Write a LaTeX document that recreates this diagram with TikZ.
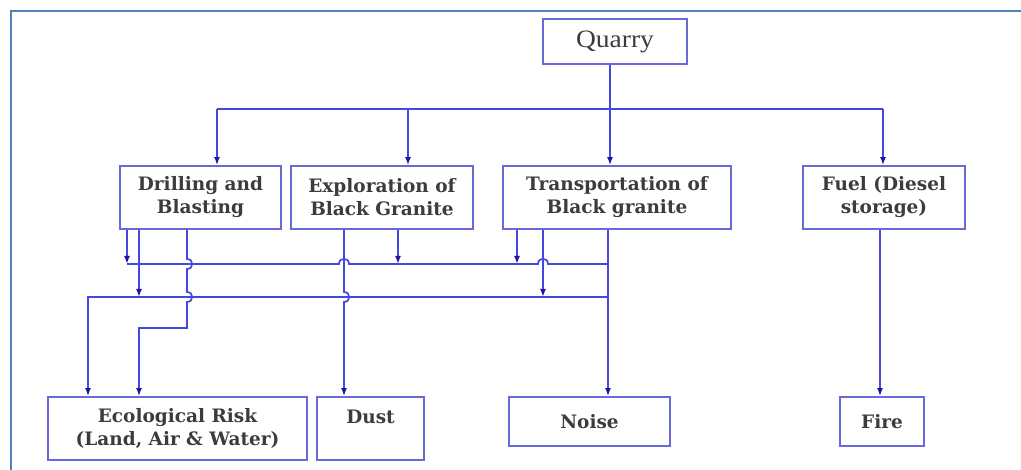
\documentclass[tikz,border=0pt]{standalone}
\usepackage{fontspec}
\setmainfont{DejaVu Serif}
\newfontfamily\qfont{Liberation Serif}
\usetikzlibrary{arrows.meta}
\definecolor{frameblue}{RGB}{79,129,189}
\definecolor{boxline}{RGB}{105,105,215}
\definecolor{conn}{RGB}{70,70,225}
\definecolor{tipc}{RGB}{25,25,160}
\definecolor{txt}{RGB}{60,60,60}
\tikzset{
  box/.style={draw=boxline, line width=1.8pt, inner sep=0pt, align=center,
    text=txt, font=\fontsize{18.5}{23}\selectfont\bfseries},
  wire/.style={draw=conn, line width=1.7pt},
  arr/.style={wire, -{Latex[length=8pt,width=6pt,color=tipc]}},
}
\begin{document}
\begin{tikzpicture}[x=1pt,y=-1pt]
\useasboundingbox (0,0) rectangle (1021,470);
\draw[frameblue, line width=2.2pt] (11,470) -- (11,11) -- (1021,11);

% nodes
\node[box, minimum width=144pt, minimum height=45pt, font=\qfont\fontsize{25}{28}\selectfont] (quarry) at (615,41.5) {\scalebox{1.1}[1]{Quarry}};
\node[box, minimum width=161pt, minimum height=63pt] (drill) at (200.5,197.5) {Drilling and\\Blasting};
\node[box, minimum width=182pt, minimum height=63pt] (explo) at (382,197.5) {Exploration of\\Black Granite};
\node[box, minimum width=228pt, minimum height=63pt] (trans) at (617,197.5) {Transportation of\\Black granite};
\node[box, minimum width=162pt, minimum height=63pt] (fuel) at (884,197.5) {Fuel (Diesel\\storage)};
\node[box, minimum width=259pt, minimum height=63pt] (eco) at (177.5,428.5) {Ecological Risk\\(Land, Air \& Water)};
\node[box, minimum width=107pt, minimum height=63pt] (dust) at (370.5,428.5) {Dust\\\phantom{X}};
\node[box, minimum width=161pt, minimum height=49pt] (noise) at (589.5,421.5) {Noise};
\node[box, minimum width=84pt, minimum height=49pt] (fire) at (882,421.5) {Fire};

% bus coordinates
\coordinate (busL) at (217,109);
\coordinate (busR) at (883,109);
\coordinate (busM) at (610,109);
\coordinate (busE) at (408,109);

\path[wire] (busL) -- (busR);
\draw[arr] (quarry.south -| busM) -- (trans.north -| busM);
\draw[arr] (busL) -- (drill.north -| busL);
\draw[arr] (busE) -- (explo.north -| busE);
\draw[arr] (busR) -- (fuel.north -| busR);

% collector lines
\coordinate (l1L) at (127,264);
\coordinate (l1R) at (608,264);
\coordinate (l2L) at (88,297);
\coordinate (l2R) at (608,297);

% line 1 with hops over x=344 and x=543
\path[wire] (l1L) -- (339,264) .. controls (339,257) and (349,257) .. (349,264)
  -- (538,264) .. controls (538,257) and (548,257) .. (548,264) -- (l1R);
% line 2
\draw[arr] (l2R) -- (l2L) -- (eco.north -| l2L);

% Drilling outputs
\draw[arr] (drill.south -| l1L) -- (l1L);
\draw[arr] (drill.south -| 139,0) -- (139,297);
\coordinate (dk) at (187,328);
\draw[arr] (drill.south -| dk) -- (187,259) .. controls (194,259) and (194,269) .. (187,269)
  -- (187,292) .. controls (194,292) and (194,302) .. (187,302)
  -- (dk) -- (139,328) -- (eco.north -| 139,0);

% Exploration outputs
\draw[arr] (explo.south -| 344,0) -- (344,292) .. controls (351,292) and (351,302) .. (344,302)
  -- (dust.north -| 344,0);
\draw[arr] (explo.south -| 398,0) -- (398,264);

% Transportation outputs
\draw[arr] (trans.south -| 517,0) -- (517,264);
\draw[arr] (trans.south -| 543,0) -- (543,297);
\draw[arr] (trans.south -| l1R) -- (noise.north -| l1R);

% Fuel output
\draw[arr] (fuel.south -| 880,0) -- (fire.north -| 880,0);
\end{tikzpicture}
\end{document}
